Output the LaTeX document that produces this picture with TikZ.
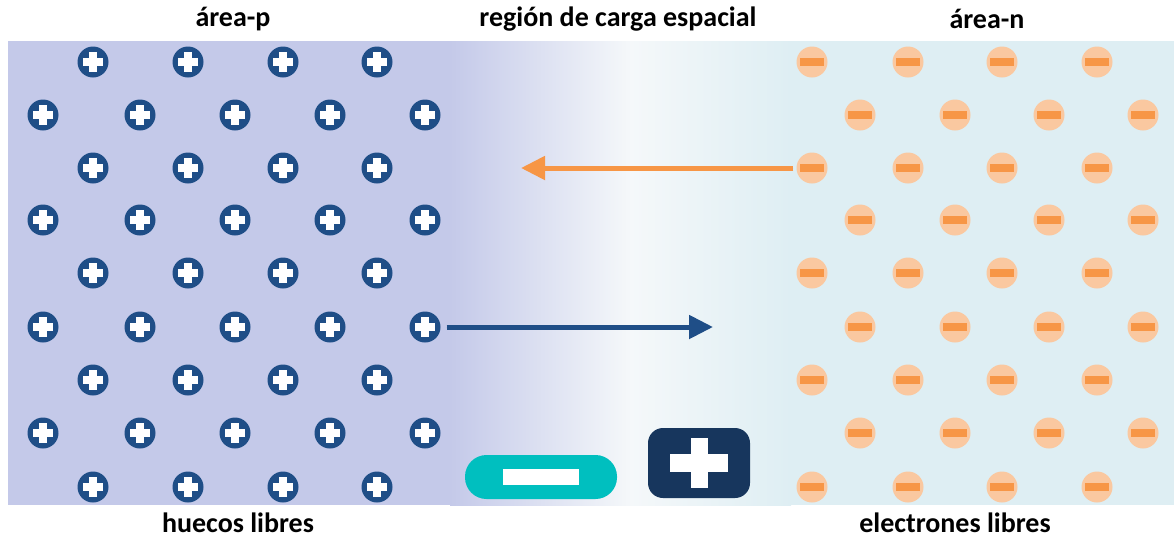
\documentclass[tikz,border=0pt]{standalone}
\usepackage{fontspec}
\setmainfont{Carlito}
\usetikzlibrary{arrows.meta}
\definecolor{lav}{RGB}{196,201,233}
\definecolor{mid}{RGB}{245,248,250}
\definecolor{lblue}{RGB}{222,238,243}
\definecolor{pblue}{RGB}{31,78,135}
\definecolor{dnavy}{RGB}{23,54,93}
\definecolor{teal}{RGB}{0,191,191}
\definecolor{obar}{RGB}{247,150,70}
\definecolor{ocirc}{RGB}{250,200,160}
\tikzset{
  hole/.style={circle,fill=pblue,minimum size=31pt,inner sep=0pt,
    path picture={
      \fill[white] ([xshift=-10pt,yshift=-4pt]path picture bounding box.center) rectangle ([xshift=10pt,yshift=4pt]path picture bounding box.center);
      \fill[white] ([xshift=-4pt,yshift=-10pt]path picture bounding box.center) rectangle ([xshift=4pt,yshift=10pt]path picture bounding box.center);}},
  elec/.style={circle,fill=ocirc,minimum size=31pt,inner sep=0pt,
    path picture={
      \fill[obar] ([xshift=-12pt,yshift=-4pt]path picture bounding box.center) rectangle ([xshift=12pt,yshift=4pt]path picture bounding box.center);}},
  lbl/.style={font=\fontsize{28}{32}\selectfont\bfseries,text=black},
  flow/.style={line width=5pt,-{Triangle[length=24pt,width=23pt]}},
}
\begin{document}
\begin{tikzpicture}[x=1pt,y=-1pt]
\useasboundingbox (0,0) rectangle (1174,539);
\fill[lav] (8,41) rectangle (451,505);
\shade[left color=lav,right color=mid] (450,41) rectangle (631,505);
\shade[left color=mid,right color=lblue] (630,41) rectangle (791,505);
\fill[lblue] (790,41) rectangle (1174,505);
% holes
\foreach \r/\y in {1/62,3/168,5/273,7/380,9/487}{
  \foreach \c/\x in {1/93,2/188,3/283,4/377}{
    \node[hole] (h\r-\c) at (\x,\y) {};}}
\foreach \r/\y in {2/115,4/220,6/327,8/433}{
  \foreach \c/\x in {1/43,2/140,3/235,4/330,5/425}{
    \node[hole] (h\r-\c) at (\x,\y) {};}}
% electrons
\foreach \r/\y in {1/62,3/168,5/273,7/380,9/487}{
  \foreach \c/\x in {1/812,2/908,3/1002,4/1097}{
    \node[elec] (e\r-\c) at (\x,\y) {};}}
\foreach \r/\y in {2/115,4/220,6/327,8/433}{
  \foreach \c/\x in {1/860,2/955,3/1049,4/1143}{
    \node[elec] (e\r-\c) at (\x,\y) {};}}
% arrows
\coordinate (otip) at (521,168);
\coordinate (btip) at (713,327);
\draw[flow,draw=obar,fill=obar] ([xshift=-3pt]e3-1.west) -- (otip);
\draw[flow,draw=pblue,fill=pblue] ([xshift=6pt]h6-5.east) -- (btip);
% space charge symbols
\node[fill=teal,rounded corners=21.5pt,minimum width=152pt,minimum height=44pt,inner sep=0pt] (neg) at (541,477) {};
\node[fill=white,minimum width=76pt,minimum height=16pt,inner sep=0pt] (negbar) at (neg.center) {};
\node[fill=dnavy,rounded corners=15pt,minimum width=102pt,minimum height=70pt,inner sep=0pt] (pos) at (699,463) {};
\node[fill=white,minimum width=58pt,minimum height=18pt,inner sep=0pt] (posh) at (pos.center) {};
\node[fill=white,minimum width=17pt,minimum height=50pt,inner sep=0pt] (posv) at (pos.center) {};
% labels
\node[lbl] (tp) at (233,19) {área-p};
\node[lbl] (tr) at (618,19) {región de carga espacial};
\node[lbl] (tn) at (987,19) {área-n};
\node[lbl] (bp) at (238,523) {huecos libres};
\node[lbl] (bn) at (955,523) {electrones libres};
\end{tikzpicture}
\end{document}
